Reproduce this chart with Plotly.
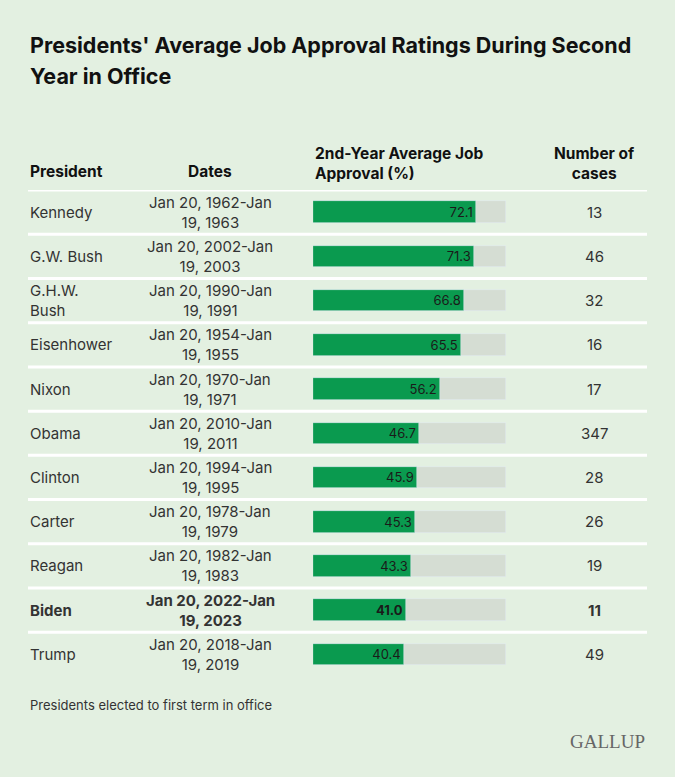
import plotly.graph_objects as go

# ---- data ----
presidents = ["Kennedy", "G.W. Bush", "G.H.W.<br>Bush", "Eisenhower", "Nixon", "Obama",
              "Clinton", "Carter", "Reagan", "Biden", "Trump"]
dates = ["Jan 20, 1962-Jan<br>19, 1963", "Jan 20, 2002-Jan<br>19, 2003", "Jan 20, 1990-Jan<br>19, 1991",
         "Jan 20, 1954-Jan<br>19, 1955", "Jan 20, 1970-Jan<br>19, 1971", "Jan 20, 2010-Jan<br>19, 2011",
         "Jan 20, 1994-Jan<br>19, 1995", "Jan 20, 1978-Jan<br>19, 1979", "Jan 20, 1982-Jan<br>19, 1983",
         "Jan 20, 2022-Jan<br>19, 2023", "Jan 20, 2018-Jan<br>19, 2019"]
approval = [72.1, 71.3, 66.8, 65.5, 56.2, 46.7, 45.9, 45.3, 43.3, 41.0, 40.4]
cases = [13, 46, 32, 16, 17, 347, 28, 26, 19, 11, 49]
highlight = "Biden"
track_max = 85.4
headers = ["President", "Dates", "2nd-Year Average Job<br>Approval (%)", "Number of<br>cases"]
title_lines = ["Presidents' Average Job Approval Ratings During Second", "Year in Office"]
footnote = "Presidents elected to first term in office"

# ---- style ----
W, H = 675, 777
BG = "#e3f0e1"
GREEN = "#0a9a4f"
TRACK = "#d5ddd3"
TXT = "#333333"
DARK = "#111111"
FONT = "Inter"

def px_x(p):
    return p / W

def px_y(p):
    return 1 - p / H

n = len(presidents)
rows = list(range(n))
bold = [p == highlight for p in presidents]

def b(s, on):
    return f"<b>{s}</b>" if on else s

ann = []

def cell(text, x, y, yref, xanchor, font, on=False):
    ann.append(dict(x=x, y=y, xref="paper", yref=yref, xanchor=xanchor, yanchor="middle",
                    align=xanchor if xanchor != "middle" else "center",
                    text=b(text, on), showarrow=False, font=font))

fig = go.Figure()
fig.add_trace(go.Bar(x=[track_max] * n, y=rows, orientation="h", marker_color=TRACK,
                     width=0.49, hoverinfo="skip", showlegend=False))
fig.add_trace(go.Bar(x=approval, y=rows, orientation="h", marker_color=GREEN, width=0.49,
                     text=[b(f"{v:.1f}", o) for v, o in zip(approval, bold)],
                     textposition="inside", insidetextanchor="end",
                     textfont=dict(family=FONT, size=13, color="#1a1a1a"),
                     cliponaxis=False, showlegend=False))

body = dict(family=FONT, size=15, color=TXT)
for i in rows:
    cell(presidents[i], px_x(28), i, "y", "left", body, bold[i])
    cell(dates[i], px_x(210), i, "y", "center", body, bold[i])
    cell(str(cases[i]), px_x(594), i, "y", "center", body, bold[i])

hdr = dict(family=FONT, size=15.5, color=DARK)
cell(headers[0], px_x(28), px_y(171), "paper", "left", hdr, True)
cell(headers[1], px_x(210), px_y(171), "paper", "center", hdr, True)
cell(headers[2], px_x(313), px_y(163.5), "paper", "left", hdr, True)
cell(headers[3], px_x(594), px_y(163.5), "paper", "center", hdr, True)
tfont = dict(family=FONT, size=21.5, color=DARK)
cell(title_lines[0], px_x(28), px_y(45), "paper", "left", tfont, True)
cell(title_lines[1], px_x(28), px_y(76), "paper", "left", tfont, True)
cell(footnote, px_x(28), px_y(705), "paper", "left", dict(family=FONT, size=13, color="#333333"))
cell("GALLUP", px_x(647), px_y(741), "paper", "right",
     dict(family="Liberation Serif", size=19, color="#666666"))

shapes = []
for i in rows:
    shapes.append(dict(type="line", xref="paper", yref="y", x0=px_x(28), x1=px_x(647),
                       y0=i - 0.5, y1=i - 0.5, line=dict(color="white", width=3), layer="below"))

fig.update_layout(
    width=W, height=H, margin=dict(l=0, r=0, t=0, b=0),
    paper_bgcolor=BG, plot_bgcolor="rgba(0,0,0,0)",
    barmode="overlay", bargap=0,
    xaxis=dict(domain=[px_x(313), px_x(506)], range=[0, track_max], visible=False, fixedrange=True),
    yaxis=dict(domain=[px_y(676.6), px_y(189.9)], range=[n - 0.5, -0.5], visible=False, fixedrange=True),
    annotations=ann, shapes=shapes, uniformtext=dict(minsize=13, mode="show"),
)

fig.write_html("out.html", config={"displayModeBar": False},
               post_script="document.body.style.margin='0';document.body.style.background='%s';" % BG)
